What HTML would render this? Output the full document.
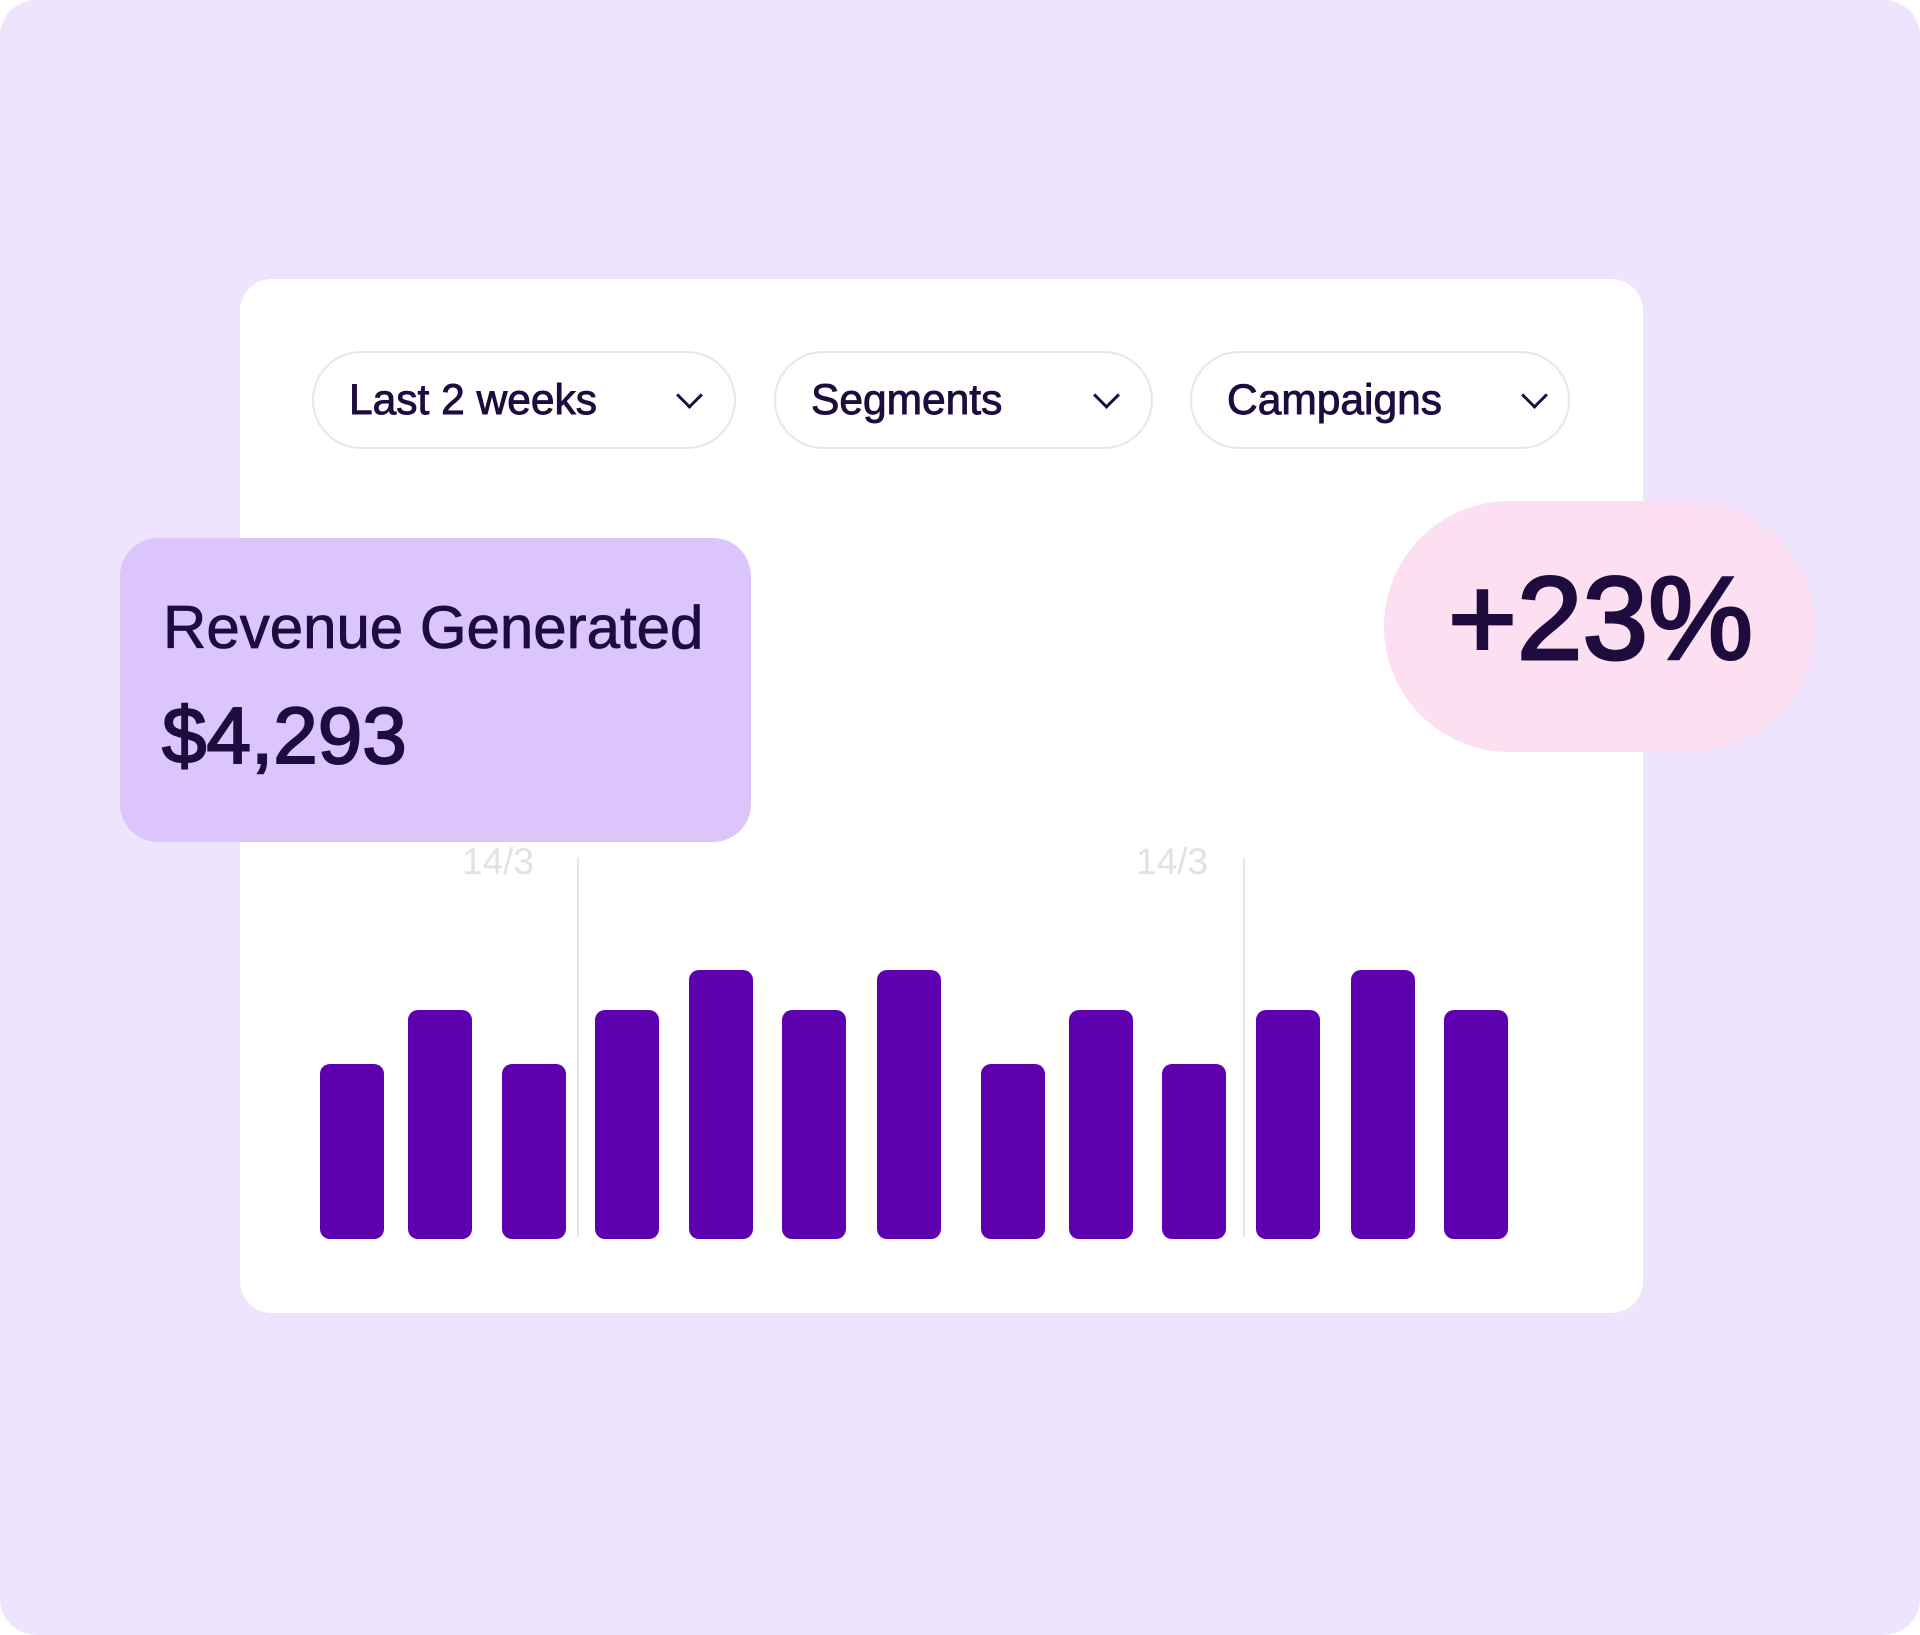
<!DOCTYPE html>
<html><head><meta charset="utf-8"><style>
html,body{margin:0;padding:0;background:#fff;}
body{width:1920px;height:1635px;position:relative;overflow:hidden;font-family:"Liberation Sans",sans-serif;color:#1d0c3d;}
.bg{position:absolute;left:0;top:0;width:1920px;height:1635px;background:#eee4fd;border-radius:36px;}
.card{position:absolute;left:240px;top:279px;width:1403px;height:1034px;background:#fff;border-radius:32px;}
.pill{position:absolute;top:351px;height:94px;border:2px solid #e7e6e9;border-radius:50px;background:#fff;}
.pill span{position:absolute;top:24px;font-size:42.5px;-webkit-text-stroke:0.9px #1d0c3d;}
.chev{position:absolute;top:386px;width:16px;height:16px;border-right:3px solid #1d0c3d;border-bottom:3px solid #1d0c3d;transform:rotate(45deg);}
.rev{position:absolute;left:120px;top:538px;width:631px;height:304px;background:#dcc5fb;border-radius:38px;}
.pink{position:absolute;left:1384px;top:501px;width:431px;height:251px;background:#fcdff0;border-radius:126px;}
.bar{position:absolute;width:64px;background:#5c00b0;border-radius:10px;}
.grid{position:absolute;width:2px;background:#e6e6e6;top:857px;height:380px;}
.lbl{position:absolute;font-size:37px;color:#e2e2e2;top:841px;}
</style></head><body>
<div class="bg"></div>
<div class="card"></div>
<div class="pill" style="left:312px;width:420px"><span style="left:35px">Last 2 weeks</span></div>
<div class="chev" style="left:680px"></div>
<div class="pill" style="left:774px;width:375px"><span style="left:35px">Segments</span></div>
<div class="chev" style="left:1097px"></div>
<div class="pill" style="left:1190px;width:376px"><span style="left:35px">Campaigns</span></div>
<div class="chev" style="left:1525px"></div>

<div class="grid" style="left:577px"></div>
<div class="grid" style="left:1243px"></div>
<div class="lbl" style="left:462px">14/3</div>
<div class="lbl" style="left:1136px">14/3</div>

<div class="bar" style="left:320px;top:1064px;height:175px"></div>
<div class="bar" style="left:408px;top:1010px;height:229px"></div>
<div class="bar" style="left:502px;top:1064px;height:175px"></div>
<div class="bar" style="left:595px;top:1010px;height:229px"></div>
<div class="bar" style="left:689px;top:970px;height:269px"></div>
<div class="bar" style="left:782px;top:1010px;height:229px"></div>
<div class="bar" style="left:877px;top:970px;height:269px"></div>
<div class="bar" style="left:981px;top:1064px;height:175px"></div>
<div class="bar" style="left:1069px;top:1010px;height:229px"></div>
<div class="bar" style="left:1162px;top:1064px;height:175px"></div>
<div class="bar" style="left:1256px;top:1010px;height:229px"></div>
<div class="bar" style="left:1351px;top:970px;height:269px"></div>
<div class="bar" style="left:1444px;top:1010px;height:229px"></div>

<div class="rev">
<div style="position:absolute;left:43px;top:55px;font-size:60px;white-space:nowrap;-webkit-text-stroke:0.8px #1d0c3d">Revenue Generated</div>
<div style="position:absolute;left:42px;top:152px;font-size:80px;white-space:nowrap;-webkit-text-stroke:2px #1d0c3d">$4,293</div>
</div>
<div class="pink"><div style="position:absolute;left:64px;top:50px;font-size:118px;white-space:nowrap;-webkit-text-stroke:3px #1d0c3d">+23%</div></div>
</body></html>
